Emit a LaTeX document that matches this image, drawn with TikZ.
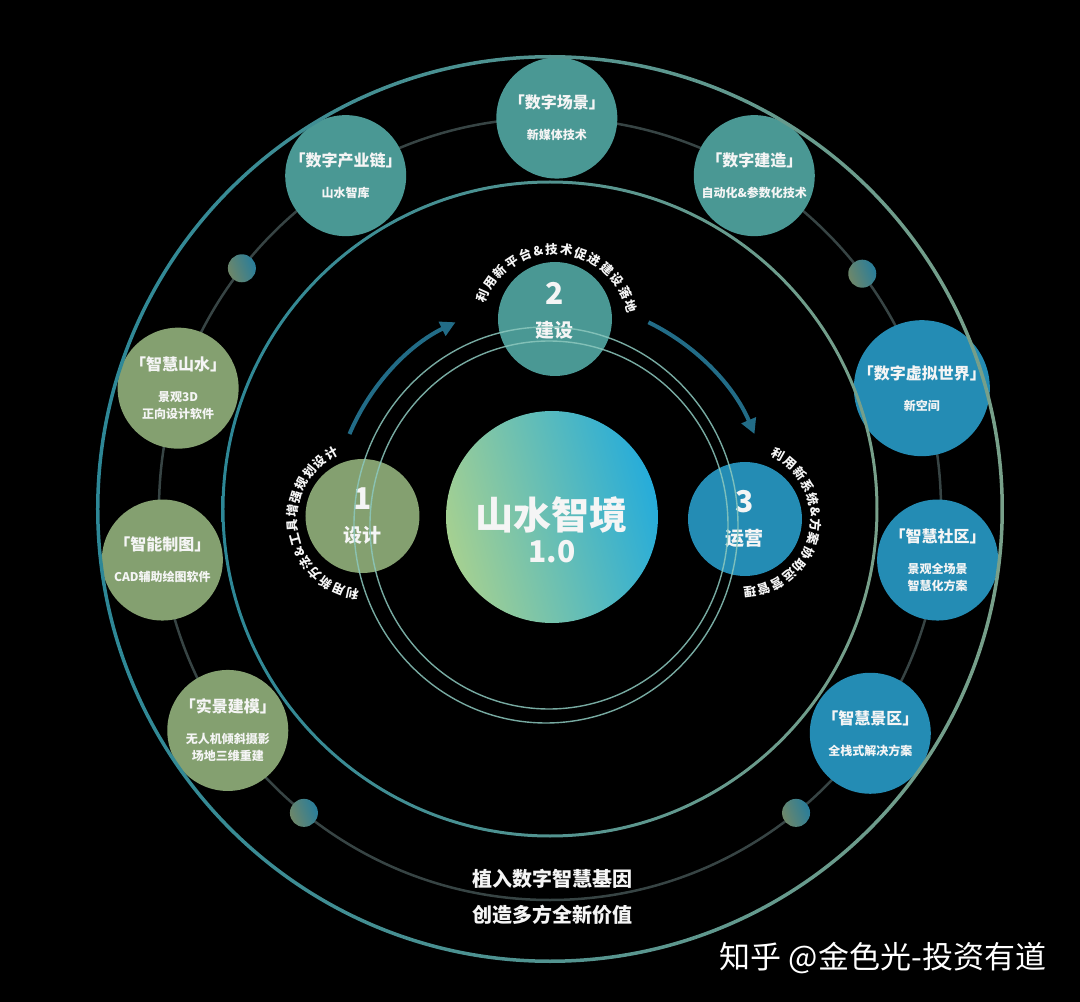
\documentclass[tikz,border=0pt]{standalone}
\usepackage{fontspec}
\setmainfont{Noto Sans CJK SC}
\usepackage{xcolor}
\usetikzlibrary{positioning, decorations.text, arrows.meta}

\definecolor{tealfill}{RGB}{74,152,148}
\definecolor{greenfill}{RGB}{132,160,112}
\definecolor{bluefill}{RGB}{36,140,180}
\definecolor{ringteal}{RGB}{45,135,150}
\definecolor{ringgreen}{RGB}{120,160,138}
\definecolor{orbitgray}{RGB}{55,68,68}
\definecolor{thinring}{RGB}{140,200,190}
\definecolor{arrowblue}{RGB}{34,108,135}
\definecolor{centergreen}{RGB}{165,208,145}
\definecolor{centerblue}{RGB}{38,172,218}
\definecolor{dotgreen}{RGB}{110,135,105}
\definecolor{dotblue}{RGB}{40,125,155}
\definecolor{txt}{RGB}{245,245,245}

\begin{document}
\begin{tikzpicture}[x=1pt,y=1pt]
\tikzstyle{sat}=[circle,minimum size=121pt,inner sep=0pt,text=txt,align=center,font=\fontsize{12}{17}\selectfont\bfseries]
\tikzstyle{stage}=[circle,minimum size=114pt,inner sep=0pt,text=txt,align=center,font=\fontsize{19}{24}\selectfont\bfseries]
\tikzstyle{dot}=[circle,minimum size=28pt,inner sep=0pt,left color=dotgreen,right color=dotblue,shading angle=110]
\tikzstyle{ring}=[even odd rule,left color=ringteal,right color=ringgreen]
\tikzstyle{curved}=[decorate,decoration={text along path,text color=txt,text align=fit to path}]
\tikzstyle{flow}=[arrowblue,line width=4pt,-{Triangle[length=15pt,width=15pt]}]

\fill[black] (-550,-493) rectangle (530,509);
\useasboundingbox (-550,-493) rectangle (530,509);

\coordinate (o) at (0,0);
\draw[orbitgray,line width=2.5pt] (o) circle (391);

\node[sat,fill=tealfill](s1) at (89:391) {{\fontsize{16}{16}\selectfont 「数字场景」}\\[14pt]新媒体技术};
\node[sat,fill=tealfill](s2) at (121.5:391) {{\fontsize{16}{16}\selectfont 「数字产业链」}\\[14pt]山水智库};
\node[sat,fill=tealfill](s3) at (58.5:391) {{\fontsize{16}{16}\selectfont 「数字建造」}\\[14pt]自动化\&参数化技术};
\node[sat,fill=greenfill](s4) at (162:391) {{\fontsize{16}{16}\selectfont 「智慧山水」}\\[14pt]景观3D\\正向设计软件};
\node[sat,fill=bluefill](s5) at (18:391) {{\fontsize{16}{16}\selectfont 「数字虚拟世界」}\\[14pt]新空间};
\node[sat,fill=greenfill](s6) at (187.5:391) {{\fontsize{16}{16}\selectfont 「智能制图」}\\[14pt]CAD辅助绘图软件};
\node[sat,fill=bluefill](s7) at (-7.5:391) {{\fontsize{16}{16}\selectfont 「智慧社区」}\\[14pt]景观全场景\\智慧化方案};
\node[sat,fill=greenfill](s8) at (214.5:391) {{\fontsize{16}{16}\selectfont 「实景建模」}\\[14pt]无人机倾斜摄影\\场地三维重建};
\node[sat,fill=bluefill](s9) at (-35:391) {{\fontsize{16}{16}\selectfont 「智慧景区」}\\[14pt]全栈式解决方案};

\node[dot](d1) at (142:391) {};
\node[dot](d2) at (37:391) {};
\node[dot](d3) at (231:391) {};
\node[dot](d4) at (-51:391) {};

\shade[ring] (o) circle (454) (o) circle (450.5);
\shade[ring] (o) circle (328.5) (o) circle (325.5);

\node[stage,fill=greenfill](p1) at (-187.5,-7) {{\fontsize{30}{30}\selectfont 1}\\[9pt]设计};
\node[stage,fill=tealfill](p2) at (5,190) {{\fontsize{30}{30}\selectfont 2}\\[9pt]建设\\[-6pt]~};
\node[stage,fill=bluefill](p3) at (195,-10) {{\fontsize{30}{30}\selectfont 3}\\[9pt]运营};

\node[circle,minimum size=212pt,inner sep=0pt,left color=centergreen,right color=centerblue,shading angle=105](c) at (2,-8) {};
\node[text=txt,font=\fontsize{38}{38}\selectfont\bfseries](ctitle) at ([yshift=2pt]c.center) {山水智境};
\node[text=txt,font=\fontsize{30}{30}\selectfont\bfseries](cver) at ([yshift=-35pt]c.center) {1.0};

\draw[thinring,line width=1.4pt,opacity=0.85] (-4,-16) ellipse [x radius=192,y radius=198];
\draw[thinring,line width=1.4pt,opacity=0.85] (-1,-16) ellipse [x radius=179,y radius=184];

\coordinate (a) at (2,-11);
\draw[flow] ([shift={(157:220)}]a) arc[start angle=157,end angle=116,radius=220];
\draw[flow] ([shift={(64:220)}]a) arc[start angle=64,end angle=23,radius=220];

\coordinate (t1) at (-182,-11);
\coordinate (t2) at (5,181);
\coordinate (t3) at (192,-10);
\path[curved,decoration={text={|\fontsize{12.5}{12.5}\selectfont\bfseries|利用新方法{\&}工具增强规划设计}}] ([shift={(263:71)}]t1) arc[start angle=263,end angle=114,radius=71];
\path[curved,decoration={text={|\fontsize{12.5}{12.5}\selectfont\bfseries|利用新平台{\&}技术促进建设落地}}] ([shift={(161:74)}]t2) arc[start angle=161,end angle=11,radius=74];
\path[curved,decoration={text={|\fontsize{12.5}{12.5}\selectfont\bfseries|利用新系统{\&}方案协助运营管理}}] ([shift={(66:69)}]t3) arc[start angle=66,end angle=-89,radius=69];

\node[text=txt,font=\fontsize{20}{20}\selectfont\bfseries](b1) at (3,-370) {植入数字智慧基因};
\node[text=txt,font=\fontsize{20}{20}\selectfont\bfseries](b2) at (3,-406) {创造多方全新价值};
\node[text=white,font=\fontsize{31}{31}\selectfont](wm) at (333,-449) {知乎 @金色光-投资有道};
\end{tikzpicture}
\end{document}
